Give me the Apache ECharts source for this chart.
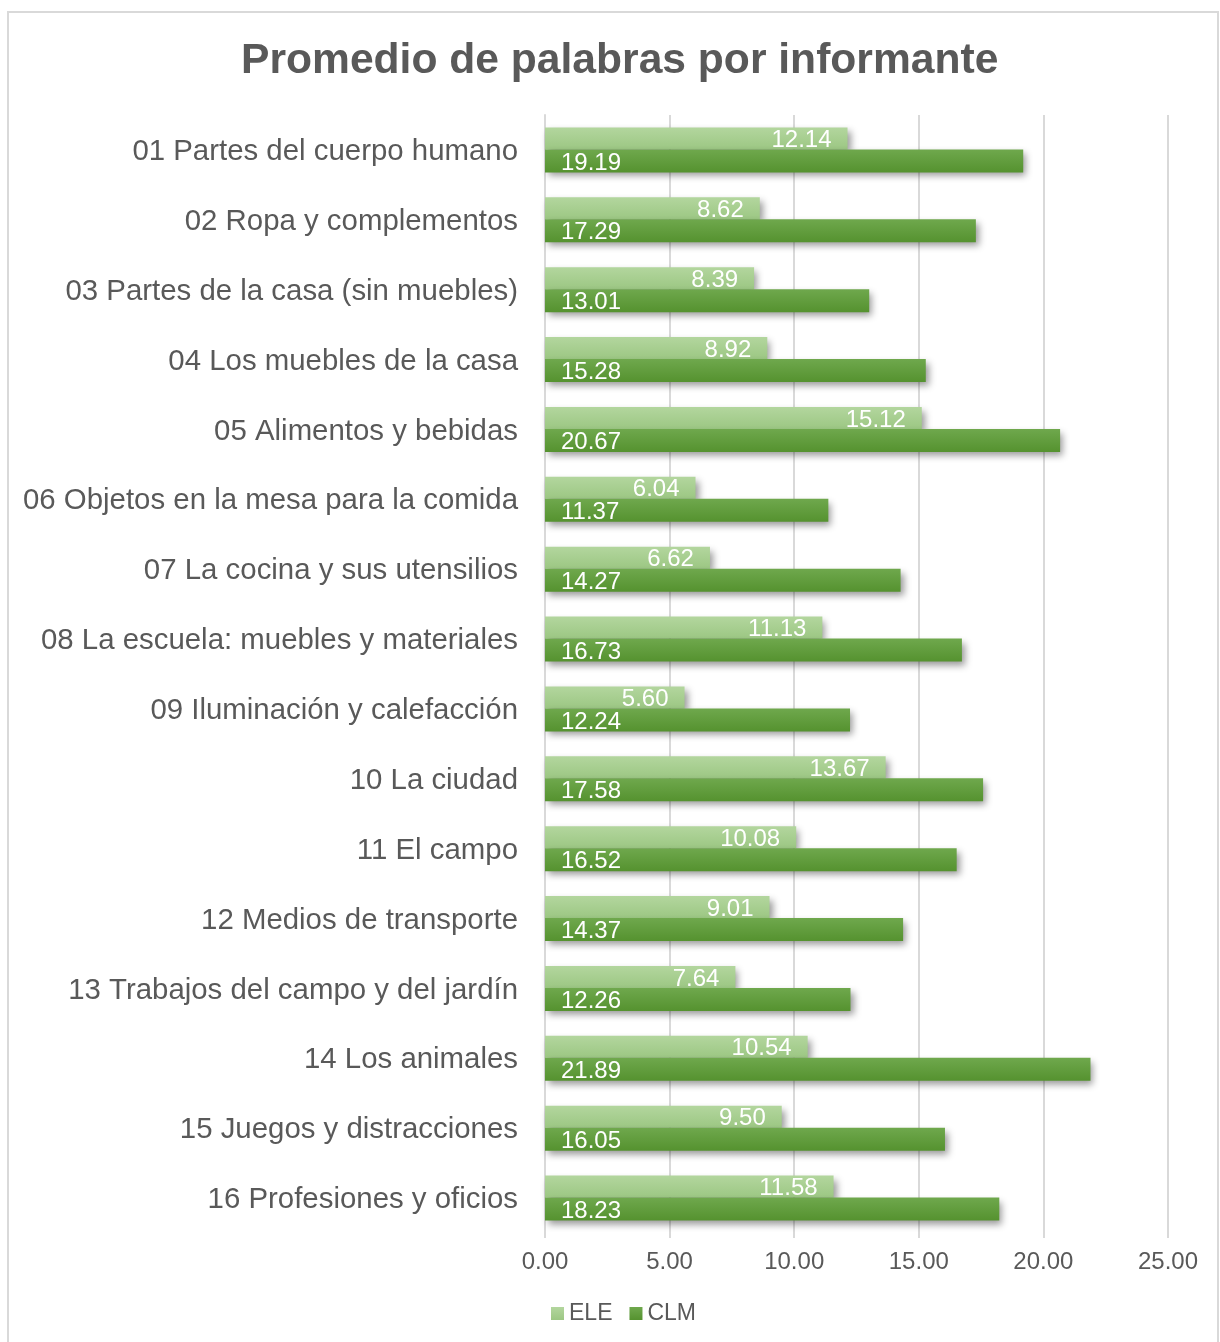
<!DOCTYPE html>
<html><head><meta charset="utf-8">
<script src="https://cdn.jsdelivr.net/npm/echarts@6/dist/echarts.min.js"></script>
<style>html,body{margin:0;padding:0;background:#fff}#c{width:1220px;height:1342px}</style>
</head><body><div id="c"></div>
<script>
const categories = ["01 Partes del cuerpo humano","02 Ropa y complementos","03 Partes de la casa (sin muebles)","04 Los muebles de la casa","05 Alimentos y bebidas","06 Objetos en la mesa para la comida","07 La cocina y sus utensilios","08 La escuela: muebles y materiales","09 Iluminación y calefacción","10 La ciudad","11 El campo","12 Medios de transporte","13 Trabajos del campo y del jardín","14 Los animales","15 Juegos y distracciones","16 Profesiones y oficios"];
const eleValues = [12.14, 8.62, 8.39, 8.92, 15.12, 6.04, 6.62, 11.13, 5.60, 13.67, 10.08, 9.01, 7.64, 10.54, 9.50, 11.58];
const clmValues = [19.19, 17.29, 13.01, 15.28, 20.67, 11.37, 14.27, 16.73, 12.24, 17.58, 16.52, 14.37, 12.26, 21.89, 16.05, 18.23];
const seriesNames = ["ELE", "CLM"];

const font = "Liberation Sans, Arial, Helvetica, sans-serif";
const grad = (a, b) => new echarts.graphic.LinearGradient(0, 0, 0, 1, [{offset: 0, color: a}, {offset: 1, color: b}]);
const chart = echarts.init(document.getElementById('c'), null, {renderer: 'canvas'});
const shadow = {shadowColor: 'rgba(0,0,0,0.4)', shadowBlur: 7, shadowOffsetX: 3, shadowOffsetY: 4};
chart.setOption({
  animation: false,
  backgroundColor: '#fff',
  graphic: [{type: 'rect', shape: {x: 8, y: 12, width: 1210, height: 1340}, style: {fill: 'none', stroke: '#d9d9d9', lineWidth: 2}, z: -1}],
  title: {text: 'Promedio de palabras por informante', left: 236, top: 35,
    textStyle: {fontFamily: font, fontSize: 42.6, fontWeight: 'bold', color: '#595959'}},
  legend: {top: 1297, left: 546, itemWidth: 13, itemHeight: 13, itemGap: 17, icon: 'rect',
    textStyle: {fontFamily: font, fontSize: 23, color: '#595959'},
    data: seriesNames},
  grid: {left: 545, right: 52, top: 115, bottom: 109, containLabel: false},
  xAxis: {type: 'value', min: 0, max: 25, interval: 5,
    axisLine: {show: false},
    axisTick: {show: true, length: 5, lineStyle: {color: '#d9d9d9', width: 2}},
    splitLine: {lineStyle: {color: '#d9d9d9', width: 2}},
    axisLabel: {fontFamily: font, fontSize: 24, color: '#595959', margin: 17, formatter: v => v.toFixed(2)}},
  yAxis: {type: 'category', data: categories, inverse: true,
    axisLine: {show: true, lineStyle: {color: '#d9d9d9', width: 2}},
    axisTick: {show: false},
    axisLabel: {fontFamily: font, fontSize: 29.4, color: '#595959', margin: 27,
      formatter: v => '{a|' + v + '}',
      rich: {a: {fontFamily: font, fontSize: 29.4, color: '#595959', padding: [4, 0, 0, 0]}}}},
  series: [
    {name: 'ELE', type: 'bar', data: eleValues, barWidth: 22, barGap: '0%', barCategoryGap: '36%',
      itemStyle: Object.assign({color: grad('#b3d69e', '#9cc783')}, shadow),
      label: {show: true, position: 'insideRight', distance: 16, offset: [0, 2], color: '#fff', fontFamily: font, fontSize: 24,
        formatter: p => p.value.toFixed(2)}},
    {name: 'CLM', type: 'bar', data: clmValues, barWidth: 23, barGap: '0%', barCategoryGap: '36%',
      itemStyle: Object.assign({color: grad('#6fa84d', '#55922f')}, shadow),
      label: {show: true, position: 'insideLeft', distance: 16, offset: [0, 2], color: '#fff', fontFamily: font, fontSize: 24,
        formatter: p => p.value.toFixed(2)}}
  ]
});
</script></body></html>
